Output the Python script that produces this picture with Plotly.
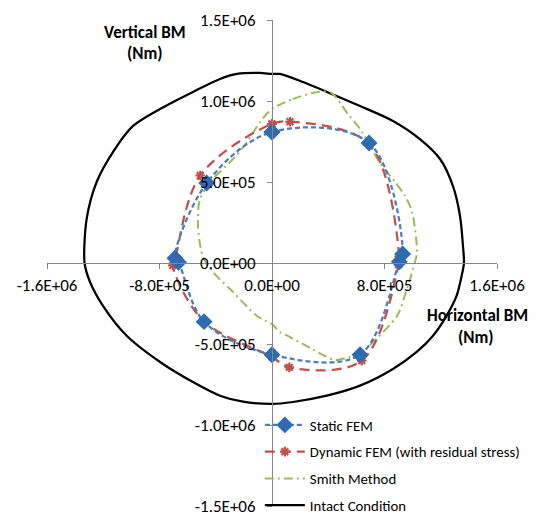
import plotly.graph_objects as go

# ---------------- data (Nm) ----------------
static_x = [0, 690e3, 929e3, 905e3, 626e3, 0, -483e3, -665e3, -690e3, -464e3, 0]
static_y = [808e3, 741e3, 56e3, 8e3, -566e3, -566e3, -362e3, 5e3, 30e3, 494e3, 808e3]

dyn_x = [0, 128e3, 690e3, 905e3, 900e3, 638e3, 123e3, 0, -490e3, -705e3, -690e3, -510e3, 0]
dyn_y = [858e3, 872e3, 735e3, 40e3, -10e3, -603e3, -644e3, -580e3, -355e3, -15e3, 20e3, 540e3, 858e3]

smith_x = [0, 149e3, 327e3, 420e3, 540e3, 626e3, 697e3, 768e3, 875e3, 946e3, 996e3, 1031e3, 1017e3,
           960e3, 889e3, 718e3, 626e3, 550e3, 448e3, 377e3, 284e3, 128e3, 57e3, 0, -107e3, -277e3,
           -420e3, -491e3, -526e3, -512e3, -420e3, -277e3, -178e3, -85e3, 0]
smith_y = [951e3, 1012e3, 1056e3, 1052e3, 920e3, 827e3, 724e3, 617e3, 500e3, 414e3, 315e3, 68e3, 6e3,
           -160e3, -327e3, -488e3, -562e3, -580e3, -599e3, -574e3, -531e3, -457e3, -427e3, -377e3, -327e3, -179e3,
           -56e3, 37e3, 228e3, 395e3, 519e3, 642e3, 747e3, 870e3, 951e3]

intact_x = [0, 57e3, 220e3, 391e3, 626e3, 860e3, 1052e3, 1195e3, 1287e3, 1337e3, 1358e3, 1365e3,
            1349e3, 1313e3, 1242e3, 1145e3, 1029e3, 860e3, 626e3, 389e3, 149e3, 0, -206e3, -370e3,
            -562e3, -796e3, -1033e3, -1202e3, -1294e3, -1333e3, -1318e3, -1247e3, -1131e3, -988e3,
            -796e3, -562e3, -370e3, -249e3, -85e3, 0]
intact_y = [1167e3, 1167e3, 1117e3, 1056e3, 969e3, 877e3, 765e3, 642e3, 475e3, 290e3, 105e3, 0,
            -78e3, -202e3, -325e3, -449e3, -549e3, -654e3, -757e3, -819e3, -858e3, -870e3, -856e3, -819e3,
            -735e3, -611e3, -449e3, -264e3, -117e3, 0, 272e3, 500e3, 685e3, 846e3,
            951e3, 1056e3, 1136e3, 1167e3, 1173e3, 1167e3]

x_ticks = [-1.6e6, -8e5, 0, 8e5, 1.6e6]
x_tick_labels = ["-1.6E+06", "-8.0E+05", "0.0E+00", "8.0E+05", "1.6E+06"]
y_ticks = [-1.5e6, -1.0e6, -5e5, 0, 5e5, 1.0e6, 1.5e6]
y_tick_labels = ["-1.5E+06", "-1.0E+06", "-5.0E+05", "0.0E+00", "5.0E+05", "1.0E+06", "1.5E+06"]

FONT = "Carlito, Lato, sans-serif"
AXIS_GRAY = "#878787"

fig = go.Figure()

fig.add_trace(go.Scatter(
    x=intact_x, y=intact_y, mode="lines", name="Intact Condition",
    line=dict(color="black", width=2.25, shape="spline", smoothing=0.8),
    legendrank=4, legendgroup="d"))

fig.add_trace(go.Scatter(
    x=smith_x, y=smith_y, mode="lines", name="Smith Method",
    line=dict(color="#9BBB59", width=2, dash="9px,4px,2px,4px", shape="spline", smoothing=0.8),
    legendrank=3, legendgroup="c"))

fig.add_trace(go.Scatter(
    x=dyn_x, y=dyn_y, mode="lines+markers", name="Dynamic FEM (with residual stress)",
    line=dict(color="#C0504D", width=2.25, dash="10px,6px", shape="spline", smoothing=1),
    marker=dict(symbol="asterisk-open", size=8, color="#C0504D", line=dict(color="#C0504D", width=2.2)),
    legendrank=2, legendgroup="b"))

fig.add_trace(go.Scatter(
    x=static_x, y=static_y, mode="lines+markers", name="Static FEM",
    line=dict(color="#4A7EBB", width=2.25, dash="5px,3px", shape="spline", smoothing=1),
    marker=dict(symbol="diamond", size=13, color="#2E6BB0"),
    legendrank=1, legendgroup="a"))

axis_common = dict(
    showgrid=False, zeroline=False, showline=True, linecolor=AXIS_GRAY, linewidth=1,
    ticks="outside", ticklen=5, tickcolor=AXIS_GRAY, tickwidth=1,
    tickfont=dict(family=FONT, size=17, color="black"),
    ticklabeloverflow="allow",
)

# the page body has an 8px default margin, so the figure is sized to fit the window
fig.update_layout(
    width=530, height=506,
    margin=dict(l=39, r=41, t=12, b=8, autoexpand=False),
    paper_bgcolor="white", plot_bgcolor="white",
    xaxis=dict(range=[-1.6e6, 1.6e6], tickvals=x_ticks, ticktext=x_tick_labels,
               anchor="free", position=0.5, ticklabelstandoff=2, **axis_common),
    yaxis=dict(range=[-1.5e6, 1.5e6], tickvals=y_ticks, ticktext=y_tick_labels,
               anchor="free", position=0.5, ticklabelstandoff=8, **axis_common),
    showlegend=True,
    legend=dict(x=0.473, y=0.2, xanchor="left", yanchor="top",
                bgcolor="rgba(0,0,0,0)", font=dict(family=FONT, size=14.8, color="black"),
                tracegroupgap=4.5, itemwidth=40),
    annotations=[
        dict(text="<b>Vertical BM</b>", x=0.218, y=0.975, xref="paper", yref="paper",
             xanchor="center", yanchor="middle",
             showarrow=False, font=dict(family=FONT, size=17, color="black")),
        dict(text="<b>(Nm)</b>", x=0.218, y=0.932, xref="paper", yref="paper",
             xanchor="center", yanchor="middle",
             showarrow=False, font=dict(family=FONT, size=17, color="black")),
        dict(text="<b>Horizontal BM</b>", x=0.956, y=0.391, xref="paper", yref="paper",
             xanchor="center", yanchor="middle",
             showarrow=False, font=dict(family=FONT, size=17, color="black")),
        dict(text="<b>(Nm)</b>", x=0.954, y=0.346, xref="paper", yref="paper",
             xanchor="center", yanchor="middle",
             showarrow=False, font=dict(family=FONT, size=17, color="black")),
    ],
)

fig.write_html("out.html")
